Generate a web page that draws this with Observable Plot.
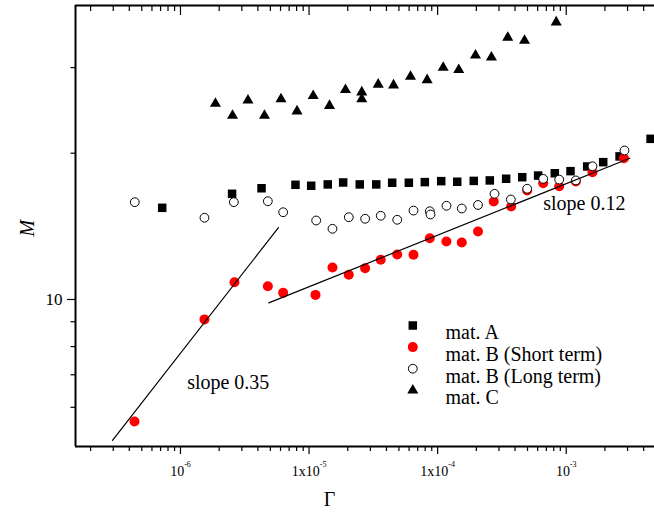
<!DOCTYPE html>
<html>
<head>
<meta charset="utf-8">
<script src="https://cdn.jsdelivr.net/npm/d3@7"></script>
<script src="https://cdn.jsdelivr.net/npm/@observablehq/plot@0.6"></script>
<style>
  html, body { margin: 0; padding: 0; background: #fff; overflow: hidden; }
  svg text { font-family: "Liberation Serif", "Times New Roman", serif; }
</style>
</head>
<body>
<div id="chart"></div>
<script>
// ---- data ----
const gammaA = [7.21e-7, 2.52e-6, 4.27e-6, 7.84e-6, 1.039e-5, 1.398e-5, 1.842e-5, 2.48e-5, 3.33e-5, 4.43e-5, 5.97e-5, 7.95e-5, 1.066e-4, 1.42e-4, 1.91e-4, 2.545e-4, 3.41e-4, 4.55e-4, 6.05e-4, 8.15e-4, 1.08e-3, 1.456e-3, 1.94e-3, 2.60e-3, 4.53e-3];
const mA     = [15.44, 16.50, 16.94, 17.22, 17.14, 17.25, 17.41, 17.25, 17.25, 17.39, 17.39, 17.44, 17.52, 17.47, 17.54, 17.58, 17.72, 17.85, 17.99, 18.19, 18.37, 18.78, 19.17, 19.70, 21.41];

const gammaBshort = [4.39e-7, 1.537e-6, 2.63e-6, 4.78e-6, 6.29e-6, 1.122e-5, 1.521e-5, 2.037e-5, 2.73e-5, 3.61e-5, 4.85e-5, 6.49e-5, 8.69e-5, 1.17e-4, 1.541e-4, 2.06e-4, 2.73e-4, 3.73e-4, 4.97e-4, 6.62e-4, 8.82e-4, 1.188e-3, 1.60e-3, 2.81e-3];
const mBshort     = [5.61, 9.10, 10.85, 10.65, 10.32, 10.22, 11.64, 11.24, 11.60, 12.07, 12.38, 12.36, 13.37, 13.16, 13.10, 13.80, 15.91, 15.54, 16.76, 17.35, 17.10, 17.49, 18.28, 19.53];

const gammaBlong = [4.41e-7, 1.537e-6, 2.60e-6, 4.78e-6, 6.29e-6, 1.136e-5, 1.521e-5, 2.037e-5, 2.73e-5, 3.61e-5, 4.85e-5, 6.49e-5, 8.69e-5, 8.80e-5, 1.172e-4, 1.541e-4, 2.06e-4, 2.77e-4, 3.71e-4, 4.97e-4, 6.62e-4, 8.82e-4, 1.188e-3, 1.60e-3, 2.84e-3];
const mBlong     = [15.86, 14.73, 15.86, 15.93, 15.12, 14.54, 13.98, 14.77, 14.66, 14.87, 14.59, 15.24, 15.19, 14.96, 15.59, 15.39, 15.65, 16.50, 16.06, 16.90, 17.71, 17.65, 17.58, 18.80, 20.26];

const gammaC = [1.87e-6, 2.54e-6, 3.35e-6, 4.50e-6, 6.05e-6, 8.06e-6, 1.077e-5, 1.442e-5, 1.92e-5, 2.57e-5, 2.57e-5, 3.45e-5, 4.54e-5, 6.15e-5, 8.29e-5, 1.105e-4, 1.46e-4, 1.97e-4, 2.62e-4, 3.51e-4, 4.74e-4, 8.36e-4];
const mC     = [25.3, 23.9, 25.7, 23.9, 25.85, 24.4, 26.25, 25.05, 27.0, 26.7, 25.85, 27.7, 27.6, 28.75, 28.3, 30.0, 29.7, 31.8, 31.5, 34.6, 34.1, 37.2];

// fitted power-law guide lines (end points)
const fit035Gamma = [2.96e-7, 5.78e-6];
const fit035M     = [5.13, 14.06];
const fit012Gamma = [4.86e-6, 3.12e-3];
const fit012M     = [9.84, 19.53];

const annotText  = ["slope 0.35", "slope 0.12"];
const annotGamma = [1.127e-6, 6.62e-4];
const annotM     = [6.73, 15.77];

const seriesNames = ["mat. A", "mat. B (Short term)", "mat. B (Long term)", "mat. C"];

const xTickValues = [1e-6, 1e-5, 1e-4, 1e-3];
const xTickLabels = ["10^-6", "1x10^-5", "1x10^-4", "10^-3"];
const xMinorTicks = [2e-7,3e-7,4e-7,5e-7,6e-7,7e-7,8e-7,9e-7,
                     2e-6,3e-6,4e-6,5e-6,6e-6,7e-6,8e-6,9e-6,
                     2e-5,3e-5,4e-5,5e-5,6e-5,7e-5,8e-5,9e-5,
                     2e-4,3e-4,4e-4,5e-4,6e-4,7e-4,8e-4,9e-4,
                     2e-3,3e-3,4e-3];
const yTickValues = [10];
const yTickLabels = ["10"];
const yMinorTicks = [6, 7, 8, 9, 20, 30];

const xDomain = [1.526e-7, 4.86e-3];
const yDomain = [4.983, 40.27];

// ---- tables ----
const zipPts = (g, m) => g.map((v, i) => ({gamma: v, m: m[i]}));
const dataA = zipPts(gammaA, mA);
const dataBs = zipPts(gammaBshort, mBshort);
const dataBl = zipPts(gammaBlong, mBlong);
const dataC = zipPts(gammaC, mC);
const fit035 = zipPts(fit035Gamma, fit035M);
const fit012 = zipPts(fit012Gamma, fit012M);
const annots = annotText.map((t, i) => ({text: t, gamma: annotGamma[i], m: annotM[i]}));

const styles = [
  {symbol: "square", r: 4.8, fill: "black"},
  {symbol: "circle", r: 5, fill: "#ff0000"},
  {symbol: "circle", r: 4.4, fill: "white", stroke: "black", strokeWidth: 1},
  {symbol: "triangle", r: 4.1, fill: "black"}
];

const FONT = "Liberation Serif";

const legendMarks = seriesNames.flatMap((name, i) => [
  Plot.dot([name], {frameAnchor: "top-left", dx: 337.3, dy: 320 + 21.6 * i, ...styles[i]}),
  Plot.text([name], {frameAnchor: "top-left", dx: 370, dy: 319 + 21.9 * i, text: d => d,
                     textAnchor: "start", fontSize: 20, fontFamily: FONT, fill: "black"})
]);

const chart = Plot.plot({
  width: 654,
  height: 517,
  marginLeft: 75,
  marginRight: 0,
  marginTop: 5,
  marginBottom: 71,
  style: {fontFamily: FONT, background: "white", color: "black"},
  x: {type: "log", domain: xDomain, label: null},
  y: {type: "log", domain: yDomain, label: null},
  marks: [
    // bottom axis
    Plot.axisX({ticks: xTickValues, tickSize: 8, tickPadding: 12, fontSize: 14, fontFamily: FONT, strokeWidth: 1.2,
                tickFormat: d => xTickLabels[xTickValues.indexOf(d)], label: null}),
    Plot.axisX({ticks: xMinorTicks, tickSize: 5, strokeWidth: 1.2, tickFormat: () => "", label: null}),
    // top axis (inward ticks)
    Plot.axisX({anchor: "top", ticks: xTickValues, tickSize: 9, dy: 9, strokeWidth: 1.2, tickFormat: () => "", label: null}),
    Plot.axisX({anchor: "top", ticks: xMinorTicks, tickSize: 5, dy: 5, strokeWidth: 1.2, tickFormat: () => "", label: null}),
    // left axis
    Plot.axisY({ticks: yTickValues, tickSize: 8, tickPadding: 5, fontSize: 17, fontFamily: FONT, strokeWidth: 1.2,
                tickFormat: d => yTickLabels[yTickValues.indexOf(d)], label: null}),
    Plot.axisY({ticks: yMinorTicks, tickSize: 4.5, strokeWidth: 1.2, tickFormat: () => "", label: null}),
    // frame lines
    Plot.ruleY([yDomain[1]], {stroke: "black", strokeWidth: 2}),
    Plot.ruleY([yDomain[0]], {stroke: "black", strokeWidth: 2}),
    Plot.ruleX([xDomain[0]], {stroke: "black", strokeWidth: 2}),
    // data
    Plot.dot(dataA, {x: "gamma", y: "m", ...styles[0]}),
    Plot.dot(dataBs, {x: "gamma", y: "m", ...styles[1]}),
    Plot.dot(dataBl, {x: "gamma", y: "m", ...styles[2]}),
    Plot.dot(dataC, {x: "gamma", y: "m", ...styles[3]}),
    Plot.line(fit035, {x: "gamma", y: "m", stroke: "black", strokeWidth: 1.2}),
    Plot.line(fit012, {x: "gamma", y: "m", stroke: "black", strokeWidth: 1.2}),
    Plot.text(annots, {x: "gamma", y: "m", text: "text", textAnchor: "start", fontSize: 20, fontFamily: FONT, fill: "black"}),
    // legend
    ...legendMarks,
    // axis titles
    Plot.text(["Γ"], {frameAnchor: "bottom", dx: -35.5, dy: 59.3, text: d => d, fontSize: 20, fontFamily: FONT, fill: "black"}),
    Plot.text(["M"], {frameAnchor: "left", dx: -48.4, dy: 10.5, rotate: -90, text: d => d,
                      fontSize: 20, fontFamily: FONT, fontStyle: "italic", fill: "black"})
  ]
});

// superscripts for the x tick labels
d3.select(chart).selectAll('g[aria-label="x-axis tick label"] text').each(function() {
  const t = this.textContent;
  if (!t.includes("^")) return;
  const [base, exp] = t.split("^");
  const sel = d3.select(this);
  sel.text(null);
  sel.append("tspan").text(base);
  sel.append("tspan").attr("dy", -9).attr("font-size", 8).text(exp);
});

document.getElementById("chart").appendChild(chart);
</script>
</body>
</html>
